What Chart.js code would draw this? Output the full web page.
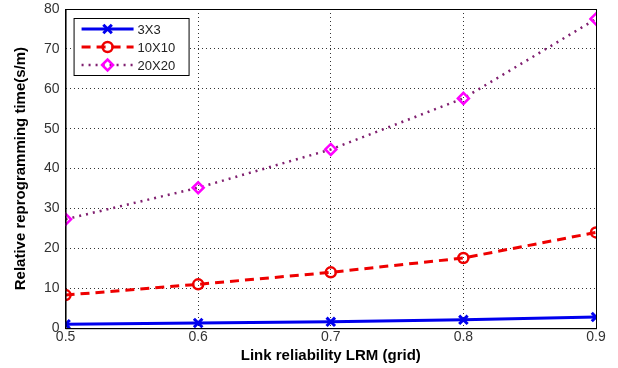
<!DOCTYPE html>
<html>
<head>
<meta charset="utf-8">
<script src="https://cdn.jsdelivr.net/npm/chart.js@4/dist/chart.umd.min.js"></script>
<style>
  html, body { margin: 0; padding: 0; background: #fff; }
  #wrap { width: 618px; height: 368px; }
</style>
</head>
<body>
<div id="wrap"><canvas id="chart" width="618" height="368"></canvas></div>
<script>
var xValues = [0.5, 0.6, 0.7, 0.8, 0.9];
var grid3 = [1.0, 1.3, 1.6, 2.1, 2.8];
var grid10 = [8.3, 11.0, 14.0, 17.6, 24.0];
var grid20 = [27.3, 35.2, 44.8, 57.6, 77.5];
var seriesNames = ["3X3", "10X10", "20X20"];

function pts(ys) {
  return ys.map(function (y, i) { return { x: xValues[i], y: y }; });
}

// box around plot + legend in top-left corner, like matlab
var frameAndLegend = {
  id: 'frameAndLegend',
  afterDraw: function (chart) {
    var ctx = chart.ctx, a = chart.chartArea;
    ctx.save();
    ctx.strokeStyle = '#000';
    ctx.lineWidth = 1;
    ctx.setLineDash([]);
    ctx.strokeRect(a.left + 0.5, a.top + 0.5, a.right - a.left, a.bottom - a.top);

    var lx = a.left + 8, ly = a.top + 9, lw = 115, lh = 57;
    ctx.fillStyle = '#fff';
    ctx.fillRect(lx, ly, lw, lh);
    ctx.strokeRect(lx + 0.5, ly + 0.5, lw, lh);
    ctx.font = '13px Arial, "Liberation Sans", sans-serif';
    ctx.textBaseline = 'middle';
    chart.data.datasets.forEach(function (ds, i) {
      var yy = ly + 11 + i * 18;
      ctx.save();
      ctx.strokeStyle = ds.borderColor;
      ctx.lineWidth = ds.borderWidth;
      ctx.setLineDash(ds.borderDash || []);
      ctx.beginPath();
      ctx.moveTo(lx + 8, yy);
      ctx.lineTo(lx + 60, yy);
      ctx.stroke();
      ctx.setLineDash([]);
      ctx.strokeStyle = ds.pointBorderColor;
      ctx.fillStyle = 'rgba(0,0,0,0)';
      ctx.lineWidth = ds.pointBorderWidth;
      Chart.helpers.drawPoint(ctx, { pointStyle: ds.pointStyle, radius: ds.pointRadius, borderWidth: ds.pointBorderWidth }, lx + 34, yy);
      ctx.restore();
      ctx.fillStyle = '#222';
      ctx.fillText(ds.label, lx + 64, yy + 1);
    });
    ctx.restore();
  }
};

new Chart(document.getElementById('chart').getContext('2d'), {
  type: 'line',
  data: {
    datasets: [
      {
        label: seriesNames[0],
        data: pts(grid3),
        borderColor: '#0000ee',
        borderWidth: 3,
        pointStyle: 'crossRot',
        pointRadius: 6,
        pointBorderWidth: 3,
        pointBorderColor: '#0000ee',
        pointBackgroundColor: 'rgba(0,0,0,0)'
      },
      {
        label: seriesNames[1],
        data: pts(grid10),
        borderColor: '#ee0000',
        borderWidth: 3,
        borderDash: [9, 6],
        pointStyle: 'circle',
        pointRadius: 5,
        pointBorderWidth: 2.5,
        pointBorderColor: '#ee0000',
        pointBackgroundColor: 'rgba(0,0,0,0)'
      },
      {
        label: seriesNames[2],
        data: pts(grid20),
        borderColor: '#802070',
        borderWidth: 2.5,
        borderDash: [2, 5],
        pointStyle: 'rectRot',
        pointRadius: 5.5,
        pointBorderWidth: 2.5,
        pointBorderColor: '#ff00ff',
        pointBackgroundColor: 'rgba(0,0,0,0)'
      }
    ]
  },
  plugins: [frameAndLegend],
  options: {
    responsive: false,
    animation: false,
    layout: { padding: { left: 12, right: 22, top: 8, bottom: 3 } },
    plugins: {
      legend: { display: false },
      tooltip: { enabled: false }
    },
    scales: {
      x: {
        type: 'linear',
        min: 0.5,
        max: 0.9,
        ticks: {
          stepSize: 0.1,
          color: '#333',
          padding: 1,
          font: { family: 'Arial, "Liberation Sans", sans-serif', size: 14 },
          callback: function (v) { return v.toFixed(1); }
        },
        grid: { color: '#333', drawTicks: false },
        border: { display: true, color: '#000', dash: [1, 3] },
        title: {
          display: true,
          text: 'Link reliability LRM (grid)',
          color: '#000',
          padding: { top: 0, bottom: 0 },
          font: { family: 'Arial, "Liberation Sans", sans-serif', size: 15, weight: 'bold' }
        }
      },
      y: {
        min: 0,
        max: 80,
        afterFit: function (scale) { scale.paddingTop = 0; },
        ticks: {
          stepSize: 10,
          color: '#333',
          padding: 6,
          font: { family: 'Arial, "Liberation Sans", sans-serif', size: 14 }
        },
        grid: { color: '#333', drawTicks: false },
        border: { display: true, color: '#000', dash: [1, 3] },
        title: {
          display: true,
          text: 'Relative reprogramming time(s/m)',
          color: '#000',
          padding: { top: 0, bottom: 8 },
          font: { family: 'Arial, "Liberation Sans", sans-serif', size: 15, weight: 'bold' }
        }
      }
    }
  }
});
</script>
</body>
</html>
